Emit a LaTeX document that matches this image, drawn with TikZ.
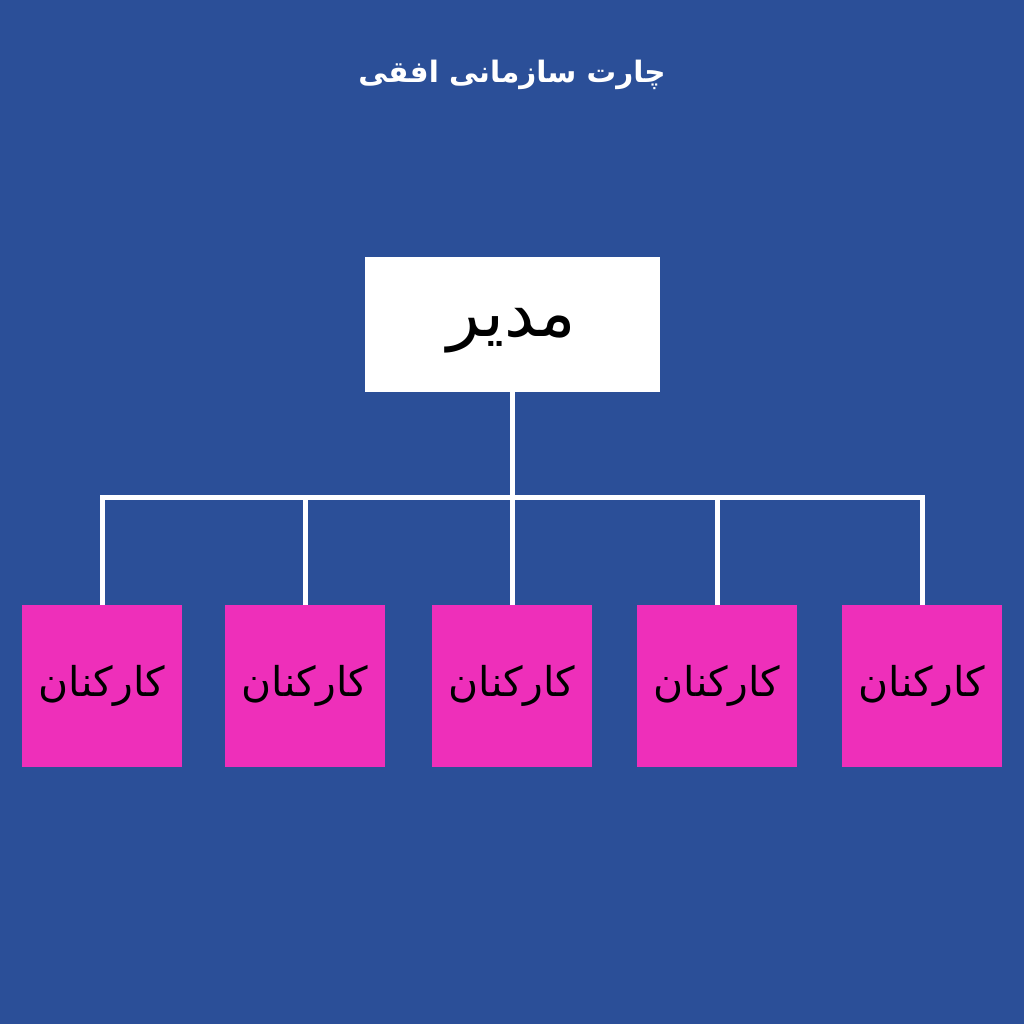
\documentclass[tikz,border=0pt]{standalone}
\usepackage{fontspec}
\usepackage{xcolor}
\usepackage{tikz}
\newfontfamily\arabicfont[Script=Arabic]{DejaVu Sans}
\TeXXeTstate=1
\definecolor{bgblue}{HTML}{2B4F98}
\definecolor{staffpink}{HTML}{EE2FBA}
\tikzset{
  mgrbox/.style={fill=white, minimum width=295pt, minimum height=135pt, inner sep=0pt,
    font=\arabicfont\fontsize{68}{74}\selectfont},
  staffbox/.style={fill=staffpink, minimum width=160pt, minimum height=162pt, inner sep=0pt,
    font=\arabicfont\fontsize{41}{46}\selectfont},
  conn/.style={white, line width=5pt}
}

\begin{document}
\begin{tikzpicture}[x=1pt,y=-1pt]
\fill[bgblue] (0,0) rectangle (1024,1024);
\useasboundingbox (0,0) rectangle (1024,1024);
\node[white, font=\arabicfont\bfseries\fontsize{29.5}{34}\selectfont] (title) at (512,75) {\beginR چارت سازمانی افقی\endR};
\node[mgrbox] (mgr) at (512,324.5) {\raisebox{-6pt}[\height][\depth]{\beginR مدیر\endR}};
\node[staffbox] (emp1) at (102,686) {\beginR کارکنان\endR};
\node[staffbox] (emp2) at (305,686) {\beginR کارکنان\endR};
\node[staffbox] (emp3) at (512,686) {\beginR کارکنان\endR};
\node[staffbox] (emp4) at (717,686) {\beginR کارکنان\endR};
\node[staffbox] (emp5) at (922,686) {\beginR کارکنان\endR};
\coordinate (bus) at (512,497);
% connectors
\draw[conn] (mgr.south) -- (emp3.north);
\draw[conn, line cap=rect] (bus -| emp1.north) -- (bus -| emp5.north);
\foreach \i in {1,2,4,5}
  \draw[conn] (bus -| emp\i.north) -- (emp\i.north);
\end{tikzpicture}
\end{document}
